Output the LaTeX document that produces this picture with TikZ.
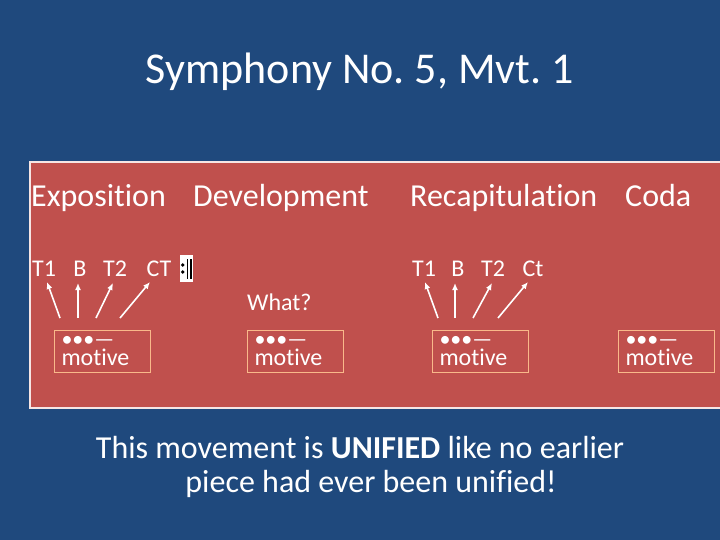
\documentclass[tikz,border=0pt]{standalone}
\usepackage{fontspec}
\setmainfont{Carlito}[Ligatures=NoCommon]
\usetikzlibrary{arrows.meta,positioning,calc}
\frenchspacing

\definecolor{slideblue}{HTML}{1F497D}
\definecolor{panelred}{HTML}{C0504D}
\definecolor{motiveline}{HTML}{F9B98A}

\tikzset{
	every node/.style={text=white},
	part/.style={anchor=base west, inner sep=0pt, font=\fontsize{32}{38}\selectfont},
	theme/.style={anchor=base, font=\fontsize{24}{29}\selectfont},
	motive/.style={draw=motiveline, line width=1pt, anchor=north west, align=left, text width=82pt,
		inner xsep=7pt, inner ysep=0pt, minimum height=42pt, font=\fontsize{24}{19}\selectfont},
	arr/.style={-{Latex[length=7pt,width=6pt]}, draw=white, line width=1.6pt}
}

\begin{document}
\begin{tikzpicture}[x=1pt,y=-1pt]
						
						\fill[slideblue] (0,0) rectangle (720,540);
						\useasboundingbox (0,0) rectangle (720,540);
						
						\node[anchor=base, font=\fontsize{44}{53}\selectfont] (title) at (360,84) {Symphony No. 5, Mvt. 1};
						
						% Panel
						\draw[fill=panelred, draw=white!85!panelred, line width=1.2pt] (30,162) rectangle (730,408);
						
						\node[part] (expo) at (31,207) {Exposition};
						\node[part] (devel) at (193,207) {Development};
						\node[part] (recap) at (410,207) {Recapitulation};
						\node[part] (coda) at (625,207) {Coda};
						
						% Themes
						\node[theme] (e1) at (44,276) {T1};
						\node[theme] (e2) at (80,276) {B};
						\node[theme] (e3) at (115,276) {T2};
						\node[theme] (e4) at (159,276) {CT};
						
						\node[theme] (r1) at (424,276) {T1};
						\node[theme] (r2) at (458,276) {B};
						\node[theme] (r3) at (493,276) {T2};
						\node[theme] (r4) at (533,276) {Ct};
						
						\node[theme, anchor=base west, inner sep=0pt] (what) at (247,310) {What?};
						
						% Repeat sign
						\node[fill=white, inner sep=0pt, minimum width=13pt, minimum height=27pt] (rep) at (186.5,268.5) {};
						\fill[black] ($(rep.center)+(-3.8,-3.5)$) circle (1.8);
						\fill[black] ($(rep.center)+(-3.8,3.5)$) circle (1.8);
						\fill[black] ($(rep.north)+(0.6,4)$) rectangle ($(rep.south)+(1.8,-3)$);
						\fill[black] ($(rep.north)+(3,4)$) rectangle ($(rep.south)+(5.6,-3)$);
						
						% Motives
						\node[motive] (motE) at (54,330) {{\fontsize{22}{19}\selectfont •••—}\\motive};
						\node[motive] (motD) at (247,330) {{\fontsize{22}{19}\selectfont •••—}\\motive};
						\node[motive] (motR) at (432,330) {{\fontsize{22}{19}\selectfont •••—}\\motive};
						\node[motive] (motC) at (618,330) {{\fontsize{22}{19}\selectfont •••—}\\motive};
						
						% Arrows
						\draw[arr] ($(motE.north west)+(6,-12)$) -- ($(e1.base)+(3,6)$);
						\draw[arr] ($(motE.north west)+(24,-12)$) -- ($(e2.base)+(-2,7)$);
						\draw[arr] ($(motE.north west)+(42,-12)$) -- ($(e3.base)+(-2,7)$);
						\draw[arr] ($(motE.north west)+(66,-12)$) -- ($(e4.base)+(-9,6)$);
						
						\draw[arr] ($(motR.north west)+(6,-12)$) -- ($(r1.base)+(1,6)$);
						\draw[arr] ($(motR.north west)+(23,-12)$) -- ($(r2.base)+(-3,7)$);
						\draw[arr] ($(motR.north west)+(41,-12)$) -- ($(r3.base)+(-1,7)$);
						\draw[arr] ($(motR.north west)+(66,-12)$) -- ($(r4.base)+(-5,6)$);
						
						\node[anchor=base, align=center, font=\fontsize{32}{34}\selectfont] (note) at (360,492)
							{This movement is \textbf{UNIFIED} like no earlier\\\hspace*{22pt}piece had ever been unified!};
						
\end{tikzpicture}
\end{document}
